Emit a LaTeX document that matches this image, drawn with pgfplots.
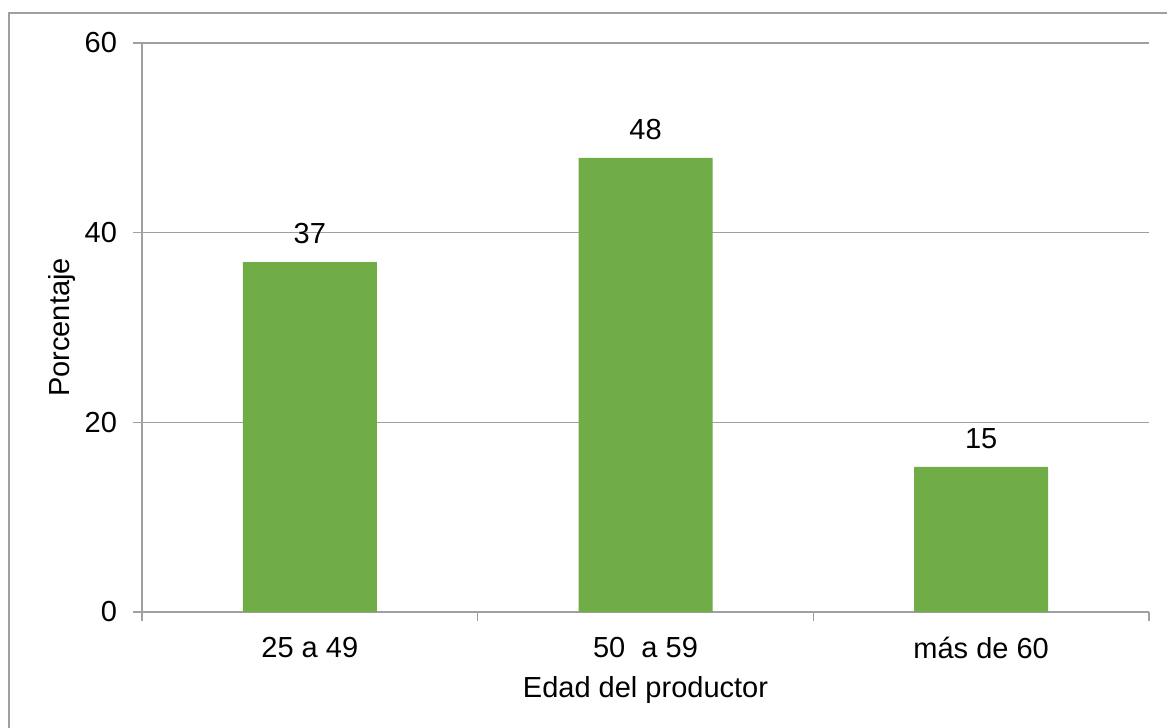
\documentclass[border=0pt]{standalone}
\usepackage{pgfplots}
\pgfplotsset{compat=1.18}
\usepackage{fontspec}
\setmainfont{Liberation Sans}
\definecolor{barg}{RGB}{112,173,71}
\definecolor{gridg}{RGB}{160,160,160}
\begin{document}
\fontsize{14.5pt}{17pt}\selectfont
\begin{tikzpicture}
\useasboundingbox (0,0) rectangle (583.5pt,364pt);
\draw[gridg, line width=0.8pt] (4.5pt,-10pt) -- (4.5pt,357.5pt) -- (600pt,357.5pt);
\begin{axis}[
  at={(71pt,58pt)}, anchor=south west,
  scale only axis, width=503.5pt, height=284.5pt,
  xmin=-0.5, xmax=2.5, ymin=0, ymax=60,
  axis x line*=bottom, axis y line*=left,
  axis line style={gridg, line width=0.8pt, -},
  xtick={-0.5,0.5,1.5,2.5},
  xticklabels={},
  extra x ticks={0,1,2},
  extra x tick labels={25 a 49, 50\ \ a 59, más de 60},
  extra x tick style={major tick length=0pt, xticklabel style={yshift=-7.5pt}},
  ytick={0,20,40,60},
  ymajorgrids, grid style={gridg, line width=0.8pt},
  tick align=outside,
  tick style={gridg, line width=0.8pt},
  major tick length=4.5pt,
  yticklabel style={xshift=-3pt},
  ticklabel style={font=\fontsize{14.5pt}{17pt}\selectfont},
  /pgf/number format/assume math mode=true,
  xlabel={Edad del productor},
  ylabel={Porcentaje},
  label style={font=\fontsize{14.5pt}{17pt}\selectfont},
  xlabel style={yshift=5.5pt},
  ylabel style={yshift=-5.5pt},
  ybar, bar width=67pt, bar shift=0pt,
  nodes near coords,
  nodes near coords style={font=\fontsize{14.5pt}{17pt}\selectfont, yshift=4pt, /pgf/number format/.cd, fixed, precision=0, assume math mode=true},
]
\addplot[fill=barg, draw=none] coordinates {(0,36.9) (1,47.9) (2,15.3)};
\end{axis}
\end{tikzpicture}
\end{document}
